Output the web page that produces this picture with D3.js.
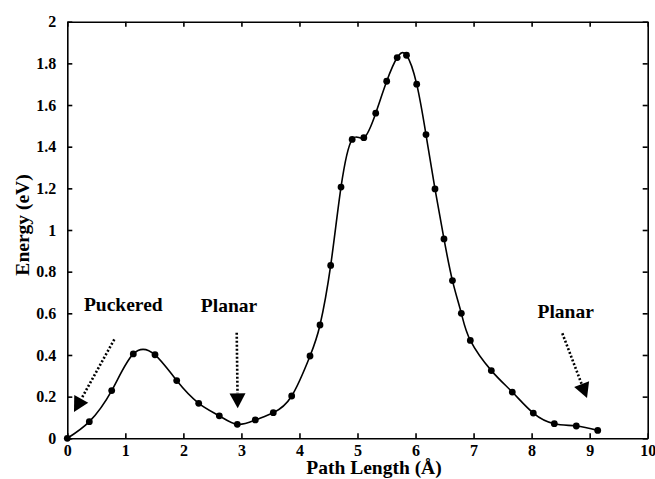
<!DOCTYPE html>
<html>
<head>
<meta charset="utf-8">
<script src="https://cdn.jsdelivr.net/npm/d3@7"></script>
<style>
body { margin: 0; background: #fff; }
text { font-family: "Liberation Serif", "Times New Roman", serif; font-weight: bold; fill: #000; }
</style>
</head>
<body>
<script>
// path length (Å) and energy (eV)
var pathLength = [0, 0.379, 0.765, 1.137, 1.511, 1.885, 2.264, 2.619, 2.929, 3.239, 3.549, 3.866,
    4.182, 4.354, 4.538, 4.716, 4.908, 5.109, 5.314, 5.503, 5.684, 5.844, 6.020, 6.180, 6.335,
    6.490, 6.636, 6.789, 6.944, 7.306, 7.667, 8.029, 8.391, 8.770, 9.139];
var energy = [0, 0.080, 0.229, 0.405, 0.401, 0.277, 0.168, 0.108, 0.067, 0.088, 0.123, 0.203,
    0.395, 0.544, 0.830, 1.206, 1.435, 1.443, 1.561, 1.714, 1.828, 1.839, 1.700, 1.458, 1.197,
    0.957, 0.757, 0.600, 0.470, 0.325, 0.222, 0.121, 0.070, 0.059, 0.038];

var xTicks = [0, 1, 2, 3, 4, 5, 6, 7, 8, 9, 10];
var yTicks = [0, 0.2, 0.4, 0.6, 0.8, 1, 1.2, 1.4, 1.6, 1.8, 2];

// annotations (data units)
var noteLabels = ['Puckered', 'Planar', 'Planar'];
var noteX = [0.965, 2.786, 8.587];
var noteY = [0.611, 0.606, 0.578];
var arrowFrom = [[0.81, 0.475], [2.919, 0.507], [8.529, 0.504]];
var arrowTo = [[0.115, 0.126], [2.936, 0.144], [8.954, 0.193]];

var width = 655, height = 479;
var plotL = 67.3, plotR = 647.7, plotT = 21.7, plotB = 438.3;

var x = d3.scaleLinear().domain([0, 10]).range([plotL, plotR]);
var y = d3.scaleLinear().domain([0, 2]).range([plotB, plotT]);

var svg = d3.select('body').append('svg')
    .attr('width', width)
    .attr('height', height);

function fmt(d) { return String(d); }

svg.append('g')
    .attr('transform', 'translate(0,' + plotB + ')')
    .call(d3.axisBottom(x).tickValues(xTicks).tickFormat(fmt).tickSizeInner(-5).tickSizeOuter(0).tickPadding(6));
svg.append('g')
    .attr('transform', 'translate(' + plotL + ',0)')
    .call(d3.axisLeft(y).tickValues(yTicks).tickFormat(fmt).tickSizeInner(-5).tickSizeOuter(0).tickPadding(11));
svg.append('g')
    .attr('transform', 'translate(0,' + plotT + ')')
    .call(d3.axisTop(x).tickValues(xTicks).tickFormat('').tickSizeInner(-5).tickSizeOuter(0));
svg.append('g')
    .attr('transform', 'translate(' + plotR + ',0)')
    .call(d3.axisRight(y).tickValues(yTicks).tickFormat('').tickSizeInner(-5).tickSizeOuter(0));

svg.selectAll('.domain, .tick line')
    .attr('stroke', '#000')
    .attr('stroke-width', 1.6);
svg.selectAll('.tick text')
    .attr('font-size', 16)
    .attr('font-family', '"Liberation Serif", serif')
    .attr('font-weight', 'bold');

// axis titles
svg.append('text')
    .attr('x', 374)
    .attr('y', 474)
    .attr('text-anchor', 'middle')
    .attr('font-size', 19.5)
    .text('Path Length (Å)');
svg.append('text')
    .attr('transform', 'translate(29,225) rotate(-90)')
    .attr('text-anchor', 'middle')
    .attr('font-size', 19.5)
    .text('Energy (eV)');

// curve
var pts = pathLength.map(function(d, i) { return [d, energy[i]]; });
var line = d3.line()
    .x(function(d) { return x(d[0]); })
    .y(function(d) { return y(d[1]); })
    .curve(d3.curveNatural);

svg.append('path')
    .datum(pts)
    .attr('d', line)
    .attr('fill', 'none')
    .attr('stroke', '#000')
    .attr('stroke-width', 1.6);

svg.selectAll('circle')
    .data(pts)
    .enter().append('circle')
    .attr('cx', function(d) { return x(d[0]); })
    .attr('cy', function(d) { return y(d[1]); })
    .attr('r', 3.4)
    .attr('fill', '#000');

// labels
svg.selectAll('text.note')
    .data(noteLabels)
    .enter().append('text')
    .attr('class', 'note')
    .attr('x', function(d, i) { return x(noteX[i]); })
    .attr('y', function(d, i) { return y(noteY[i]); })
    .attr('text-anchor', 'middle')
    .attr('font-size', 19.5)
    .text(function(d) { return d; });

// dotted arrows with filled heads
var headLen = 15, headHalf = 8;
arrowFrom.forEach(function(f, i) {
    var x0 = x(f[0]), y0 = y(f[1]);
    var x1 = x(arrowTo[i][0]), y1 = y(arrowTo[i][1]);
    var dx = x1 - x0, dy = y1 - y0;
    var len = Math.sqrt(dx * dx + dy * dy);
    var ux = dx / len, uy = dy / len;
    var bx = x1 - ux * headLen, by = y1 - uy * headLen;
    svg.append('line')
        .attr('x1', x0).attr('y1', y0)
        .attr('x2', bx).attr('y2', by)
        .attr('stroke', '#000')
        .attr('stroke-width', 2.6)
        .attr('stroke-dasharray', '2,2');
    svg.append('path')
        .attr('d', 'M' + x1 + ',' + y1 +
            'L' + (bx - uy * headHalf) + ',' + (by + ux * headHalf) +
            'L' + (bx + uy * headHalf) + ',' + (by - ux * headHalf) + 'Z')
        .attr('fill', '#000');
});
</script>
</body>
</html>
